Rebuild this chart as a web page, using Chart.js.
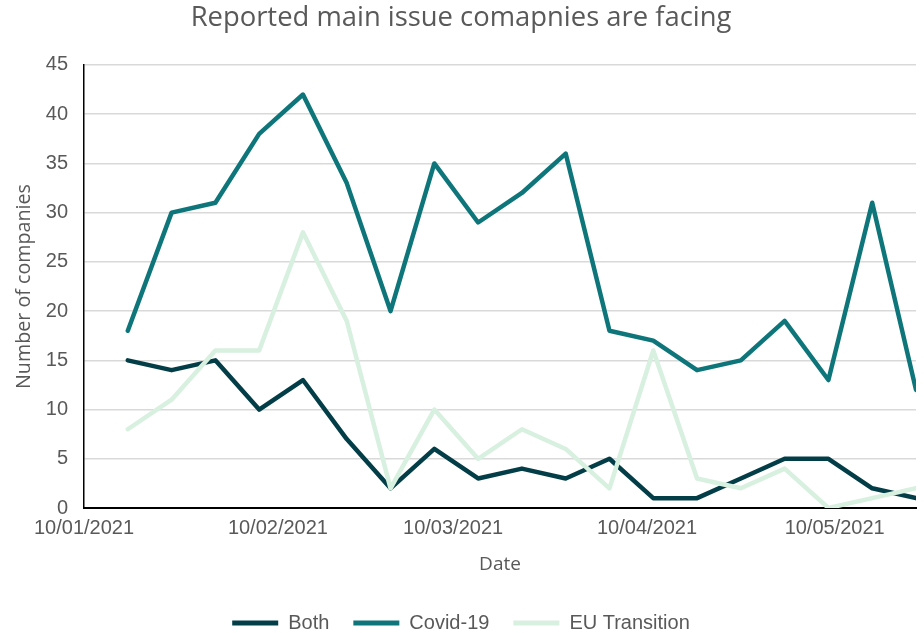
<!DOCTYPE html>
<html><head><meta charset="utf-8">
<script src="https://cdn.jsdelivr.net/npm/chart.js@4/dist/chart.umd.min.js"></script>
<style>html,body{margin:0;padding:0;background:#fff}#wrap{width:924px;height:633px;position:relative}</style>
</head><body><div id="wrap"><canvas id="c"></canvas></div>
<script>
const dates = ["2021-01-17","2021-01-24","2021-01-31","2021-02-07","2021-02-14","2021-02-21","2021-02-28",
  "2021-03-07","2021-03-14","2021-03-21","2021-03-28","2021-04-04","2021-04-11","2021-04-18","2021-04-25",
  "2021-05-02","2021-05-09","2021-05-16","2021-05-23"];
const both = [15,14,15,10,13,7,2,6,3,4,3,5,1,1,3,5,5,2,1];
const covid = [18,30,31,38,42,33,20,35,29,32,36,18,17,14,15,19,13,31,12];
const euTransition = [8,11,16,16,28,19,2,10,5,8,6,2,16,3,2,4,0,1,2];
const seriesNames = ["Both","Covid-19","EU Transition"];
const seriesColors = ["#033E48","#0E767B","#D8F0DF"];
const tickDates = ["2021-01-10","2021-02-10","2021-03-10","2021-04-10","2021-05-10"];
const tickLabels = ["10/01/2021","10/02/2021","10/03/2021","10/04/2021","10/05/2021"];
const axisStart = "2021-01-10";
const axisEnd = "2021-05-23";

const DAY = 86400000;
const dayOf = d => (Date.parse(d) - Date.parse(axisStart)) / DAY;
const toPoints = vals => vals.map((v, i) => ({x: dayOf(dates[i]), y: v}));
const tickDays = tickDates.map(dayOf);

const grey = '#595959';
const serieData = [both, covid, euTransition];
const datasets = serieData.map((vals, i) => ({
  label: seriesNames[i],
  data: toPoints(vals),
  borderColor: seriesColors[i],
  backgroundColor: seriesColors[i],
  borderWidth: 4.5,
  pointRadius: 0,
  tension: 0,
  borderJoinStyle: 'round',
  borderCapStyle: 'round',
  order: 3 - i
}));

new Chart(document.getElementById('c'), {
  type: 'line',
  data: {datasets},
  options: {
    responsive: true,
    maintainAspectRatio: false,
    animation: false,
    devicePixelRatio: 1,
    layout: {padding: {top: 0, right: 8, left: 6, bottom: -10}},
    plugins: {
      tooltip: {enabled: false},
      title: {
        display: true,
        text: 'Reported main issue comapnies are facing',
        color: grey,
        font: {family: 'Open Sans', size: 27.4, weight: 'normal'},
        padding: {top: 2, bottom: 30.1}
      },
      legend: {
        position: 'bottom',
        labels: {
          color: grey,
          font: {family: 'Liberation Sans', size: 20},
          boxWidth: 46,
          boxHeight: 5,
          padding: 24,
          generateLabels: chart => chart.data.datasets.map((ds, i) => ({
            text: ds.label,
            fillStyle: ds.borderColor,
            strokeStyle: ds.borderColor,
            lineWidth: 0,
            fontColor: grey,
            hidden: false,
            datasetIndex: i
          }))
        }
      }
    },
    scales: {
      x: {
        type: 'linear',
        min: 0,
        max: dayOf(axisEnd),
        afterBuildTicks: s => { s.ticks = tickDays.map(v => ({value: v})); },
        afterFit: s => { s.height = 81; },
        ticks: {
          autoSkip: false, maxRotation: 0, padding: 8,
          color: grey,
          font: {family: 'Liberation Sans', size: 20},
          callback: (v) => { const k = tickDays.indexOf(v); return k >= 0 ? tickLabels[k] : ''; }
        },
        grid: {display: false, drawTicks: false},
        border: {display: true, color: '#000000', width: 2},
        title: {display: true, text: 'Date', color: grey, font: {family: 'Open Sans', size: 19}, padding: {top: 10, bottom: 13}}
      },
      y: {
        min: 0, max: 45,
        afterFit: s => { s.width = 78; },
        ticks: {stepSize: 5, padding: 16, color: grey, font: {family: 'Liberation Sans', size: 20}},
        grid: {color: '#D9D9D9', lineWidth: 1.5, drawTicks: false},
        border: {display: true, color: '#000000', width: 1.5},
        title: {display: true, text: 'Number of companies', color: grey, font: {family: 'Open Sans', size: 19.7}, padding: {top: 6.2, bottom: 0}}
      }
    }
  }
});
</script>
</body></html>
